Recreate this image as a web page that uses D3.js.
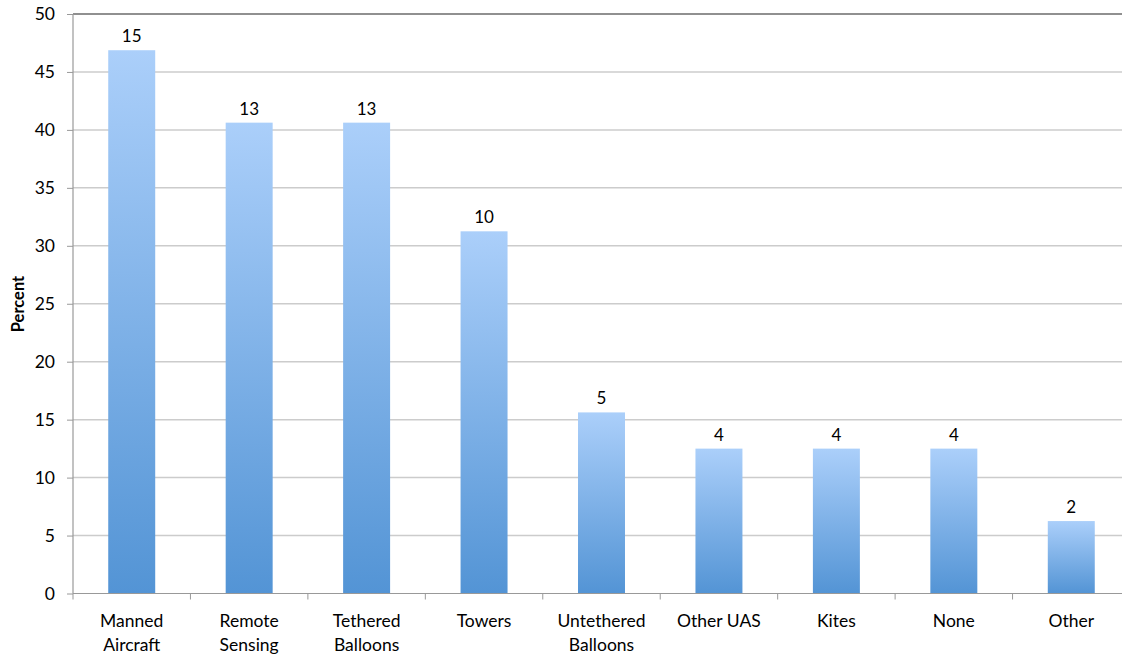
<!DOCTYPE html>
<html><head><meta charset="utf-8">
<script src="https://cdn.jsdelivr.net/npm/d3@7"></script>
<style>body{margin:0;background:#fff;}svg{display:block;}text{font-family:Lato,"Open Sans",sans-serif;}</style>
</head><body><svg id="c" width="1122" height="656"></svg>
<script>
const categories = [["Manned","Aircraft"],["Remote","Sensing"],["Tethered","Balloons"],["Towers"],["Untethered","Balloons"],["Other UAS"],["Kites"],["None"],["Other"]];
const counts = [15,13,13,10,5,4,4,4,2];
const percents = [46.875,40.625,40.625,31.25,15.625,12.5,12.5,12.5,6.25];
const yTicks = [0,5,10,15,20,25,30,35,40,45,50];

const svg = d3.select("#c");
const x0 = 73, x1 = 1130, yTop = 14, yBot = 593.5;
const x = d3.scaleBand().domain(d3.range(categories.length)).range([x0,x1]).paddingInner(0.6).paddingOuter(0.3);
const y = d3.scaleLinear().domain([0,50]).range([yBot,yTop]);

const defs = svg.append("defs");
const g = defs.append("linearGradient").attr("id","grad").attr("x1",0).attr("y1",0).attr("x2",0).attr("y2",1);
g.append("stop").attr("offset","0%").attr("stop-color","#abcffa");
g.append("stop").attr("offset","100%").attr("stop-color","#5394d5");

// gridlines
svg.append("g").selectAll("line").data(yTicks.filter(d=>d>0)).join("line")
  .attr("x1",x0).attr("x2",1122).attr("y1",d=>y(d)).attr("y2",d=>y(d))
  .attr("stroke",d=>d===50?"#222":"#cccccc").attr("stroke-width",d=>d===50?1.2:1.5);

// bars
svg.append("g").selectAll("rect").data(percents).join("rect")
  .attr("x",(d,i)=>x(i)).attr("width",x.bandwidth())
  .attr("y",d=>y(d)).attr("height",d=>yBot-y(d)).attr("fill","url(#grad)");

// value labels
svg.append("g").selectAll("text").data(counts).join("text")
  .attr("x",(d,i)=>x(i)+x.bandwidth()/2).attr("y",(d,i)=>y(percents[i])-8)
  .attr("text-anchor","middle").attr("font-size",17).attr("fill","#000").text(d=>d);

// y axis
const ya = svg.append("g").attr("transform",`translate(${x0},0)`)
  .call(d3.axisLeft(y).tickValues(yTicks).tickSize(6).tickPadding(12));
ya.select(".domain").attr("stroke","#999").attr("stroke-width",1.2).attr("d",`M0,${yTop}V${yBot}`);
ya.selectAll(".tick line").attr("stroke","#999");
ya.selectAll(".tick text").attr("font-size",17.5).attr("fill","#000").attr("font-family","Lato,'Open Sans',sans-serif");

// x axis baseline and ticks
const step = x.step();
svg.append("line").attr("x1",x0).attr("x2",1122).attr("y1",yBot).attr("y2",yBot).attr("stroke","#999").attr("stroke-width",1.2);
svg.append("g").selectAll("line").data(d3.range(0,categories.length+1)).join("line")
  .attr("x1",i=>x0+i*step).attr("x2",i=>x0+i*step).attr("y1",yBot).attr("y2",yBot+6).attr("stroke","#999");

// category labels
const cl = svg.append("g").selectAll("text").data(categories).join("text")
  .attr("x",(d,i)=>x(i)+x.bandwidth()/2).attr("y",627).attr("text-anchor","middle").attr("font-size",17.5).attr("fill","#000");
cl.selectAll("tspan").data(d=>d).join("tspan")
  .attr("x",function(){return this.parentNode.getAttribute("x");})
  .attr("dy",(d,i)=>i===0?0:24).text(d=>d);

// y label
svg.append("text").attr("transform","translate(24,304) rotate(-90)").attr("text-anchor","middle")
  .attr("font-size",16.5).attr("font-weight","bold").text("Percent");
</script></body></html>
